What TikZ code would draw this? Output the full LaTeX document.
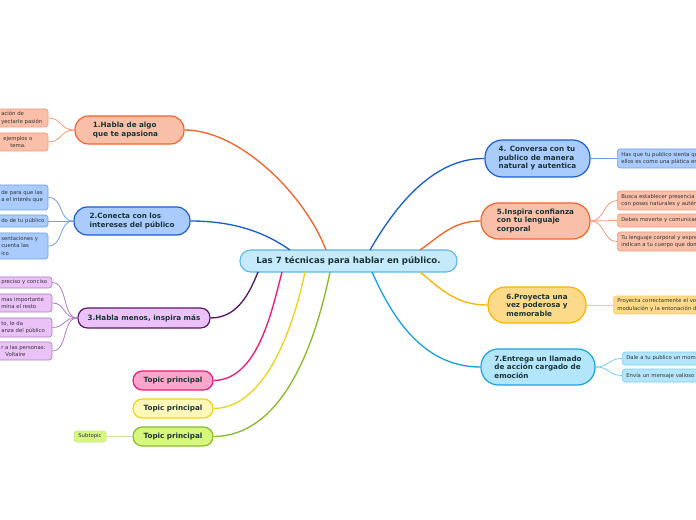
\documentclass[tikz,border=0pt]{standalone}
\usepackage{fontspec}
\setmainfont{DejaVu Sans}
\usetikzlibrary{calc}
\definecolor{txt}{HTML}{1B3535}
\definecolor{stxt}{HTML}{333333}
\definecolor{cfill}{HTML}{C6E9FB}\definecolor{cline}{HTML}{5BB5E8}
\definecolor{ofill}{HTML}{F9BFA9}\definecolor{oline}{HTML}{F2632A}\definecolor{osub}{HTML}{F59A78}
\definecolor{bfill}{HTML}{A9CBFD}\definecolor{bline}{HTML}{1A5FCF}\definecolor{bsub}{HTML}{6E9FEA}
\definecolor{pfill}{HTML}{EAC2F8}\definecolor{pline}{HTML}{5B1665}\definecolor{psub}{HTML}{B07CC0}
\definecolor{kfill}{HTML}{FCA6CA}\definecolor{kline}{HTML}{E8197A}
\definecolor{yfill}{HTML}{FFF8B8}\definecolor{yline}{HTML}{F0D21C}
\definecolor{gfill}{HTML}{D6F67E}\definecolor{gline}{HTML}{86BC25}\definecolor{gsub}{HTML}{C4E890}
\definecolor{afill}{HTML}{FDD98A}\definecolor{aline}{HTML}{F7B500}\definecolor{asub}{HTML}{F9CE6A}
\definecolor{tfill}{HTML}{B3E5FB}\definecolor{tline}{HTML}{18A3E0}\definecolor{tsub}{HTML}{7CCDF2}
\tikzset{
  main/.style={draw, line width=0.9pt, rounded corners=10pt, font=\bfseries\fontsize{5.4}{6.4}\selectfont, text=txt, align=left, inner sep=0pt},
  sub/.style={draw, line width=0.5pt, rounded corners=2.2pt, inner sep=0pt},
  stext/.style={font=\fontsize{4}{5.6}\selectfont, text=stxt, align=left, inner sep=0pt},
  subR/.style={sub, anchor=west, font=\fontsize{4}{5.6}\selectfont, text=stxt, align=left, inner xsep=3pt, text width=95pt},
  link/.style={line width=1pt},
  slink/.style={line width=0.6pt},
}
\begin{document}
\begin{tikzpicture}[x=0.75pt,y=-0.75pt]
\useasboundingbox (0,0) rectangle (696,520);
\clip (0,0) rectangle (696,520);
% central
\node[draw=cline, fill=cfill, line width=0.8pt, rounded corners=8pt, minimum width=162.75pt, minimum height=16.5pt, inner sep=0pt, font=\bfseries\fontsize{6.45}{7}\selectfont, text=txt] (c) at (348.5,261) {Las 7 técnicas para hablar en público.};
\coordinate (cn1) at (326,250);
\coordinate (cn2) at (290,250);
\coordinate (cn4) at (370,250);
\coordinate (cn5) at (420,250);
\coordinate (cs3) at (258,272);
\coordinate (csk) at (282,272);
\coordinate (csy) at (305,272);
\coordinate (csg) at (330,272);
\coordinate (cs7) at (372,272);
\coordinate (cs6) at (420,272);
% main topics
\node[main, draw=oline, fill=ofill, minimum width=81.75pt, minimum height=21pt] (n1) at (129.5,130) {1.Habla de algo\\que te apasiona\hspace*{6pt}};
\node[main, draw=bline, fill=bfill, minimum width=87pt, minimum height=21pt] (n2) at (132,221) {2.Conecta con los\\intereses del público};
\node[main, draw=pline, fill=pfill, minimum width=99pt, minimum height=15pt, rounded corners=7pt] (n3) at (144,318) {3.Habla menos, inspira más};
\node[main, draw=kline, fill=kfill, minimum width=60pt, minimum height=14.25pt, rounded corners=7pt] (nk) at (173,380.5) {Topic principal};
\node[main, draw=yline, fill=yfill, minimum width=60pt, minimum height=14.25pt, rounded corners=7pt] (ny) at (173,408.5) {Topic principal};
\node[main, draw=gline, fill=gfill, minimum width=60pt, minimum height=14.25pt, rounded corners=7pt] (ng) at (173,436.5) {Topic principal};
\node[main, draw=bline, fill=bfill, minimum width=78.75pt, minimum height=27.75pt, rounded corners=13pt] (n4) at (537.5,158.5) {4. Conversa con tu\\publico de manera\\natural y autentica};
\node[main, draw=oline, fill=ofill, minimum width=81.75pt, minimum height=27pt, rounded corners=13pt] (n5) at (535.5,221) {5.Inspira confianza\\con tu lenguaje\\corporal};
\node[main, draw=aline, fill=afill, minimum width=73.5pt, minimum height=27pt, rounded corners=13pt] (n6) at (537,305) {6.Proyecta una\\vez poderosa y\\memorable};
\node[main, draw=tline, fill=tfill, minimum width=85.5pt, minimum height=27pt, rounded corners=13pt] (n7) at (538,367) {7.Entrega un llamado\\de acción cargado de\\emoción};
% center links
\draw[link, oline] (n1.east) .. controls (240,130) and (305,195) .. (cn1);
\draw[link, bline] (n2.east) .. controls (240,221) and (270,236) .. (cn2);
\draw[link, pline] (n3.east) .. controls (238,318) and (250,292) .. (cs3);
\draw[link, kline] (nk.east) .. controls (258,380) and (272,310) .. (csk);
\draw[link, yline] (ny.east) .. controls (268,408) and (295,320) .. (csy);
\draw[link, gline] (ng.east) .. controls (288,436) and (318,330) .. (csg);
\draw[link, bline] (n4.west) .. controls (430,158) and (392,212) .. (cn4);
\draw[link, oline] (n5.west) .. controls (452,221) and (438,238) .. (cn5);
\draw[link, aline] (n6.west) .. controls (455,305) and (440,288) .. (cs6);
\draw[link, tline] (n7.west) .. controls (420,367) and (390,312) .. (cs7);
% left subtopics group 1
\node[sub, draw=osub, fill=ofill, minimum width=40.5pt, minimum height=13.5pt] (s1a) at (21,118) {};
\node[stext] (t1a) at (1,118) [anchor=west] {ación de\\yectarle pasión};
\node[sub, draw=osub, fill=ofill, minimum width=40.5pt, minimum height=13.5pt] (s1b) at (21,142) {};
\node[stext] (t1b) at (3,142) [anchor=west] {ejemplos o\\\hspace*{5.3pt}tema.};
\draw[slink, osub] (n1.west) .. controls (60,130) and (62,118) .. (s1a.east);
\draw[slink, osub] (n1.west) .. controls (60,130) and (62,142) .. (s1b.east);
% group 2
\node[sub, draw=bsub, fill=bfill, minimum width=40.5pt, minimum height=18.75pt] (s2a) at (21,197.5) {};
\node[stext] (t2a) at (1,196.5) [anchor=west] {de para que las\\a el interés que};
\node[sub, draw=bsub, fill=bfill, minimum width=40.5pt, minimum height=9pt] (s2b) at (21,221) {};
\node[stext] (t2b) at (1,221) [anchor=west] {do de tu público};
\node[sub, draw=bsub, fill=bfill, minimum width=40.5pt, minimum height=19.5pt] (s2c) at (21,246) {};
\node[stext] (t2c) at (1,246) [anchor=west] {sentaciones y\\cuenta las\\ico};
\draw[slink, bsub] (n2.west) .. controls (58,221) and (64,197.5) .. (s2a.east);
\draw[slink, bsub] (n2.west) -- (s2b.east);
\draw[slink, bsub] (n2.west) .. controls (58,221) and (64,246) .. (s2c.east);
% group 3
\node[sub, draw=psub, fill=pfill, minimum width=43.5pt, minimum height=8.25pt] (s3a) at (23,282.5) {};
\node[stext] (t3a) at (1,282.5) [anchor=west] {preciso y conciso};
\node[sub, draw=psub, fill=pfill, minimum width=43.5pt, minimum height=13.5pt] (s3b) at (23,303) {};
\node[stext] (t3b) at (1,303) [anchor=west] {mas importante\\mina el resto};
\node[sub, draw=psub, fill=pfill, minimum width=43.5pt, minimum height=14.25pt] (s3c) at (23,327.5) {};
\node[stext] (t3c) at (1,327.5) [anchor=west] {to, le da\\anza del público};
\node[sub, draw=psub, fill=pfill, minimum width=43.5pt, minimum height=13.5pt] (s3d) at (23,351) {};
\node[stext] (t3d) at (1,351) [anchor=west] {r a las personas:\\\hspace*{3pt}Voltaire};
\draw[slink, psub] (n3.west) .. controls (62,318) and (68,282.5) .. (s3a.east);
\draw[slink, psub] (n3.west) .. controls (62,318) and (66,303) .. (s3b.east);
\draw[slink, psub] (n3.west) .. controls (62,318) and (66,327.5) .. (s3c.east);
\draw[slink, psub] (n3.west) .. controls (62,318) and (68,351) .. (s3d.east);
% green subtopic
\node[sub, draw=gsub, fill=gfill, minimum width=24pt, minimum height=8.25pt, font=\fontsize{4}{5}\selectfont, text=stxt] (sg) at (90,436.5) {Subtopic};
\draw[slink, gsub] (ng.west) -- (sg.east);
% right subtopics
\node[subR, draw=bsub, fill=bfill, minimum height=14.25pt] (s4) at (617,158.5) {Has que tu publico sienta qu\\ellos es como una plática en};
\draw[slink, bsub] (n4.east) -- (s4.west);
\node[subR, draw=osub, fill=ofill, minimum height=14.25pt] (s5a) at (617,200.5) {Busca establecer presencia c\\con poses naturales y autént};
\node[subR, draw=osub, fill=ofill, minimum height=9.75pt] (s5b) at (617,220.5) {Debes moverte y comunicar};
\node[subR, draw=osub, fill=ofill, minimum height=14.25pt] (s5c) at (617,241.5) {Tu lenguaje corporal y expre\\indican a tu cuerpo que dom};
\draw[slink, osub] (n5.east) .. controls (605,221) and (603,200.5) .. (s5a.west);
\draw[slink, osub] (n5.east) -- (s5b.west);
\draw[slink, osub] (n5.east) .. controls (605,221) and (603,241.5) .. (s5c.west);
\node[subR, draw=asub, fill=afill, minimum height=13.5pt] (s6) at (613,305) {Proyecta correctamente el vo\\modulación y la entonación d};
\draw[slink, asub] (n6.east) -- (s6.west);
\node[subR, draw=tsub, fill=tfill, minimum height=9.75pt] (s7a) at (622,358.5) {Dale a tu publico un mom};
\node[subR, draw=tsub, fill=tfill, minimum height=9.75pt] (s7b) at (622,375.5) {Envía un mensaje valioso};
\draw[slink, tsub] (n7.east) .. controls (610,367) and (608,358.5) .. (s7a.west);
\draw[slink, tsub] (n7.east) .. controls (610,367) and (608,375.5) .. (s7b.west);
\end{tikzpicture}
\end{document}
